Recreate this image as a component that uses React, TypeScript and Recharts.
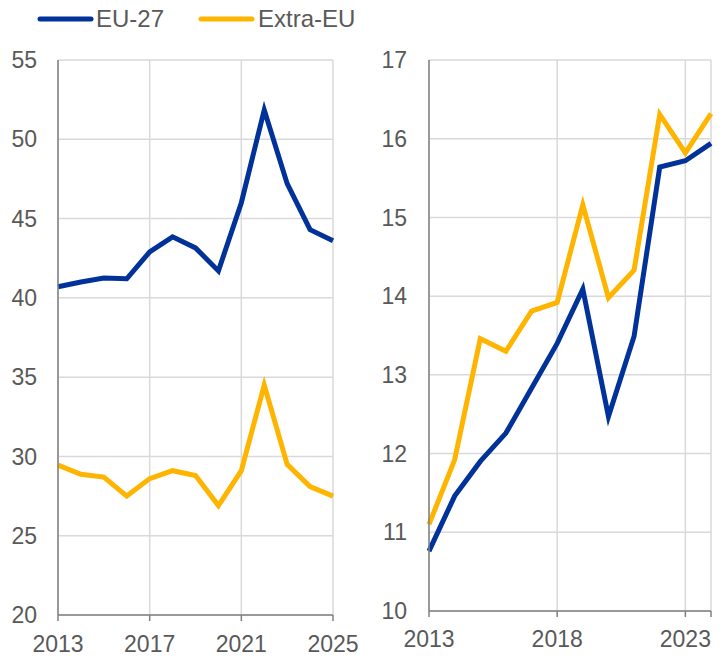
import React from 'react'
import { LineChart, Line, XAxis, YAxis, CartesianGrid } from 'recharts'

// left panel: 2013-2025
const yearsLeft = [2013, 2014, 2015, 2016, 2017, 2018, 2019, 2020, 2021, 2022, 2023, 2024, 2025]
const eu27Left = [40.7, 41.0, 41.25, 41.2, 42.9, 43.85, 43.15, 41.7, 46.0, 51.85, 47.2, 44.3, 43.6]
const extraLeft = [29.45, 28.87, 28.7, 27.5, 28.6, 29.1, 28.8, 26.9, 29.1, 34.5, 29.5, 28.1, 27.5]
const leftYTicks = [20, 25, 30, 35, 40, 45, 50, 55]
const leftXTicks = [2013, 2017, 2021, 2025]

// right panel: 2013-2024
const yearsRight = [2013, 2014, 2015, 2016, 2017, 2018, 2019, 2020, 2021, 2022, 2023, 2024]
const eu27Right = [10.76, 11.46, 11.9, 12.26, 12.83, 13.4, 14.09, 12.47, 13.49, 15.64, 15.72, 15.94]
const extraRight = [11.1, 11.92, 13.46, 13.3, 13.81, 13.92, 15.16, 13.98, 14.33, 16.31, 15.82, 16.32]
const rightYTicks = [10, 11, 12, 13, 14, 15, 16, 17]
const rightXTicks = [2013, 2018, 2023, 2024]
const rightXLabels = [2013, 2018, 2023]

const BLUE = '#003299'
const YELLOW = '#FFB400'
const TEXT = '#595959'
const AXIS = '#808080'
const GRID = '#d9d9d9'
const FONT = 'Arial, "Liberation Sans", sans-serif'

const leftData = yearsLeft.map((year, i) => ({ year, eu: eu27Left[i], extra: extraLeft[i] }))
const rightData = yearsRight.map((year, i) => ({ year, eu: eu27Right[i], extra: extraRight[i] }))

const tickStyle = { fill: TEXT, fontSize: 23, fontFamily: FONT }

type PanelProps = {
  data: { year: number; eu: number; extra: number }[]
  width: number
  yWidth: number
  marginRight: number
  top: number
  xHeight: number
  xDomain: [number, number]
  xTicks: number[]
  xLabels: number[]
  yDomain: [number, number]
  yTicks: number[]
  yMargin: number
  xMargin: number
}

function Panel(p: PanelProps) {
  return (
    <LineChart
      width={p.width}
      height={660}
      data={p.data}
      margin={{ top: p.top, right: p.marginRight, left: 0, bottom: 0 }}
    >
      <CartesianGrid stroke={GRID} strokeWidth={1.5} />
      <XAxis
        dataKey="year"
        type="number"
        domain={p.xDomain}
        ticks={p.xTicks}
        interval={0}
        height={p.xHeight}
        tick={tickStyle}
        tickFormatter={(v: number) => (p.xLabels.includes(v) ? String(v) : '')}
        tickSize={6}
        tickMargin={p.xMargin}
        axisLine={{ stroke: AXIS, strokeWidth: 1.5 }}
        tickLine={{ stroke: AXIS, strokeWidth: 1.5 }}
      />
      <YAxis
        domain={p.yDomain}
        ticks={p.yTicks}
        interval={0}
        width={p.yWidth}
        tick={tickStyle}
        tickSize={0}
        tickMargin={p.yMargin}
        axisLine={{ stroke: AXIS, strokeWidth: 1.5 }}
        tickLine={false}
      />
      {/* inner tick marks */}
      <YAxis
        yAxisId="inner"
        mirror
        domain={p.yDomain}
        ticks={p.yTicks}
        interval={0}
        tickSize={7}
        tickFormatter={() => ''}
        axisLine={false}
        tickLine={{ stroke: AXIS, strokeWidth: 1.5 }}
      />
      <Line dataKey="eu" stroke={BLUE} strokeWidth={5} dot={false} isAnimationActive={false} />
      <Line dataKey="extra" stroke={YELLOW} strokeWidth={5} dot={false} isAnimationActive={false} />
    </LineChart>
  )
}

export default function App() {
  return (
    <div style={{ position: 'absolute', left: 0, top: 0, width: 721, height: 660, background: '#fff' }}>
      <svg width={721} height={40} style={{ position: 'absolute', left: 0, top: 0 }}>
        <line x1={40} x2={91} y1={19} y2={19} stroke={BLUE} strokeWidth={5} strokeLinecap="round" />
        <text x={96} y={27} fill={TEXT} fontSize={24} fontFamily={FONT}>EU-27</text>
        <line x1={201} x2={252} y1={19} y2={19} stroke={YELLOW} strokeWidth={5} strokeLinecap="round" />
        <text x={258} y={27} fill={TEXT} fontSize={24} fontFamily={FONT}>Extra-EU</text>
      </svg>
      <div style={{ position: 'absolute', left: 0, top: 0 }}>
        <Panel
          data={leftData}
          width={366}
          yWidth={58}
          marginRight={33}
          top={60}
          xHeight={45}
          xDomain={[2013, 2025]}
          xTicks={leftXTicks}
          xLabels={leftXTicks}
          yDomain={[20, 55]}
          yTicks={leftYTicks}
          yMargin={21}
          xMargin={15}
        />
      </div>
      <div style={{ position: 'absolute', left: 360, top: 0 }}>
        <Panel
          data={rightData}
          width={361}
          yWidth={69}
          marginRight={10}
          top={60}
          xHeight={49}
          xDomain={[2013, 2024]}
          xTicks={rightXTicks}
          xLabels={rightXLabels}
          yDomain={[10, 17]}
          yTicks={rightYTicks}
          yMargin={22}
          xMargin={14}
        />
      </div>
    </div>
  )
}
